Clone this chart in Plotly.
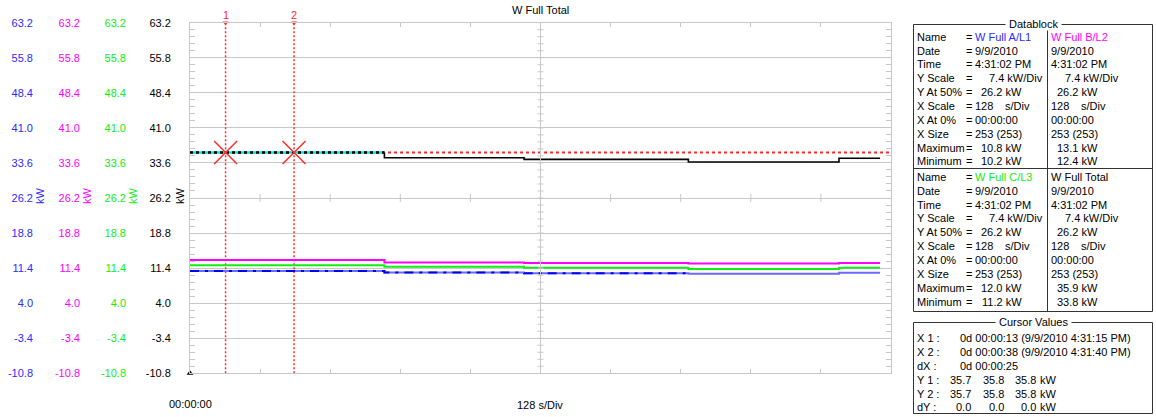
import datetime as dt
import plotly.graph_objects as go

W, H = 1156, 417
FONT = "Liberation Sans"

# Logged channels: elapsed seconds at each level change and the kW level from there on
t_total = [0, 4, 71, 122, 182, 237, 252]
kw_total = [35.9, 35.8, 34.7, 34.35, 33.8, 34.6, 34.6]
t_phase = [0, 71, 122, 182, 237, 252]
kw_l1 = [10.8, 10.45, 10.3, 10.2, 10.4, 10.4]
kw_l2 = [13.1, 12.6, 12.5, 12.4, 12.5, 12.5]
kw_l3 = [12.0, 11.7, 11.5, 11.2, 11.5, 11.5]

# Shared vertical scale: 7.4 kW per division, 26.2 kW at mid-screen
y_ticks = [-10.8, -3.4, 4.0, 11.4, 18.8, 26.2, 33.6, 41.0, 48.4, 55.8, 63.2]
y_minor = 1.48
x_range = [0, 256]
x_div = 25.6

# Cursor readout
cursor_t = [13, 38]
cursor_kw = 35.8
cursor_y1 = ["35.7", "35.8", "35.8"]
cursor_y2 = ["35.7", "35.8", "35.8"]
cursor_dy = ["0.0", "0.0", "0.0"]

start = dt.datetime(2010, 9, 9, 16, 31, 2)

BLUE, BLUE_DK = "#6a6aff", "#0000f0"
MAGENTA = "#ff00ff"
GREEN = "#11ee11"
RED = "#ff2a2a"
GRID = "#c8c8c8"

channels = [
    dict(name="W Full A/L1", color="#2b2bff", data=kw_l1),
    dict(name="W Full B/L2", color=MAGENTA, data=kw_l2),
    dict(name="W Full C/L3", color=GREEN, data=kw_l3),
    dict(name="W Full Total", color="black", data=kw_total),
]


def px(x):
    return x / W


def py(y):
    return 1 - y / H


fig = go.Figure()

# horizontal cursor level
fig.add_trace(go.Scatter(x=x_range, y=[cursor_kw, cursor_kw], mode="lines",
                         line=dict(color=RED, width=2, dash="3px,3px"),
                         hoverinfo="skip", showlegend=False))

# phase channels, each on its own scale
fig.add_trace(go.Scatter(x=t_phase, y=kw_l2, mode="lines", line_shape="hv",
                         line=dict(color=MAGENTA, width=2), yaxis="y3", showlegend=False))
fig.add_trace(go.Scatter(x=t_phase, y=kw_l3, mode="lines", line_shape="hv",
                         line=dict(color=GREEN, width=2), yaxis="y4", showlegend=False))
fig.add_trace(go.Scatter(x=t_phase, y=kw_l1, mode="lines", line_shape="hv",
                         line=dict(color=BLUE, width=2), yaxis="y2", showlegend=False))
fig.add_trace(go.Scatter(x=t_phase[:4], y=kw_l1[:4], mode="lines", line_shape="hv",
                         line=dict(color=BLUE_DK, width=2, dash="9px,6px,3px,6px"),
                         yaxis="y2", showlegend=False))

# total: highlighted while equal to the cursor level, solid afterwards
split = 2
fig.add_trace(go.Scatter(x=t_total[:split + 1], y=[kw_total[1]] * (split + 1), mode="lines",
                         line=dict(color="#00e5e5", width=2.5), showlegend=False))
fig.add_trace(go.Scatter(x=t_total[:split + 1], y=[kw_total[1]] * (split + 1), mode="lines",
                         line=dict(color="black", width=2.5, dash="3px,3px"), showlegend=False))
fig.add_trace(go.Scatter(x=[t_total[split]] + t_total[split:],
                         y=[kw_total[1]] + kw_total[split:], mode="lines", line_shape="hv",
                         line=dict(color="black", width=1.6), showlegend=False))

# time cursors
for t in cursor_t:
    fig.add_trace(go.Scatter(x=[t, t], y=[y_ticks[0], y_ticks[-1]], mode="lines",
                             line=dict(color=RED, width=1.5, dash="2px,2px"),
                             showlegend=False))
fig.add_trace(go.Scatter(x=cursor_t, y=[cursor_kw] * len(cursor_t), mode="markers",
                         marker=dict(symbol="x-thin-open", size=23, color=RED,
                                     line=dict(color=RED, width=1.5)),
                         showlegend=False))
fig.add_trace(go.Scatter(x=cursor_t, y=[y_ticks[-1]] * len(cursor_t), mode="markers",
                         marker=dict(symbol="triangle-down", size=5, color=RED),
                         cliponaxis=False, showlegend=False))
# start-of-record marker
fig.add_trace(go.Scatter(x=[x_range[0]], y=[y_ticks[0]], mode="markers",
                         marker=dict(symbol="triangle-up", size=6, color="black"),
                         cliponaxis=False, showlegend=False))

tick_text = [f"{v:.1f}" for v in y_ticks]
x_dom = [px(190), px(891)]
y_dom = [py(373.3), py(22.7)]

fig.update_layout(
    width=W, height=H,
    margin=dict(l=0, r=0, t=0, b=0, autoexpand=False),
    paper_bgcolor="white", plot_bgcolor="white",
    font=dict(family=FONT, size=11, color="black"),
    showlegend=False,
    xaxis=dict(domain=x_dom, range=x_range, automargin=False,
               tickvals=[i * x_div for i in range(11)],
               ticks="inside", ticklen=4, tickcolor=GRID,
               showline=True, linecolor=GRID, mirror="ticks",
               showgrid=False, zeroline=False, showticklabels=False),
    yaxis=dict(domain=y_dom, range=[y_ticks[0], y_ticks[-1]], automargin=False,
               tickvals=y_ticks, ticktext=tick_text,
               ticks="inside", ticklen=5, tickcolor=GRID,
               showline=True, linecolor=GRID, mirror="ticks",
               showgrid=True, gridcolor=GRID, zeroline=False,
               minor=dict(dtick=y_minor, tick0=y_ticks[0], ticks="inside",
                          ticklen=5, tickcolor=GRID, showgrid=False),
               tickfont=dict(size=11, color="black"), ticklabelstandoff=16),
)

for ax, ch, xpos in (("yaxis2", channels[0], 33), ("yaxis3", channels[1], 80),
                     ("yaxis4", channels[2], 126)):
    fig.layout[ax] = dict(overlaying="y", anchor="free", position=px(xpos), side="left",
                          range=[y_ticks[0], y_ticks[-1]], tickvals=y_ticks,
                          ticktext=tick_text, showgrid=False, zeroline=False,
                          showline=False, ticks="", automargin=False,
                          tickfont=dict(size=11, color=ch["color"]))

shapes = []
# centre crosshair with its division marks
mid_t = (x_range[0] + x_range[1]) / 2
mid_kw = y_ticks[5]
shapes.append(dict(type="line", xref="x", yref="y domain", x0=mid_t, x1=mid_t, y0=0, y1=1,
                   line=dict(color=GRID, width=1)))
n_minor = int(round((y_ticks[-1] - y_ticks[0]) / y_minor))
for i in range(1, n_minor):
    v = y_ticks[0] + i * y_minor
    shapes.append(dict(type="line", xref="x", yref="y", xsizemode="pixel", xanchor=mid_t,
                       x0=-3, x1=3, y0=v, y1=v, line=dict(color=GRID, width=1)))
for i in range(1, 10):
    v = i * x_div
    shapes.append(dict(type="line", xref="x", yref="y", ysizemode="pixel", yanchor=mid_kw,
                       x0=v, x1=v, y0=-4, y1=4, line=dict(color=GRID, width=1)))

# datablock and cursor panels
BOX = dict(color="#333333", width=1)
shapes += [
    dict(type="rect", xref="paper", yref="paper", x0=px(913.5), x1=px(1152.5),
         y0=py(311.5), y1=py(24.5), line=BOX),
    dict(type="line", xref="paper", yref="paper", x0=px(1047.5), x1=px(1047.5),
         y0=py(311.5), y1=py(24.5), line=BOX),
    dict(type="line", xref="paper", yref="paper", x0=px(913.5), x1=px(1152.5),
         y0=py(168.5), y1=py(168.5), line=BOX),
    dict(type="rect", xref="paper", yref="paper", x0=px(913.5), x1=px(1152.5),
         y0=py(413.5), y1=py(322.5), line=BOX),
]

ann = []
PANEL = 11


def txt(x, y, s, color="black", anchor="left", size=PANEL, bg=None):
    d = dict(x=px(x), y=py(y), xref="paper", yref="paper", text=s, showarrow=False,
             xanchor=anchor, yanchor="middle", borderpad=0,
             font=dict(family=FONT, size=size, color=color))
    if bg:
        d["bgcolor"] = bg
    return d


ann.append(txt(540, 10, "W Full Total", anchor="center", size=11))
ann.append(txt(190, 404, "00:00:00", anchor="center", size=11))
ann.append(txt(540, 405, "128 s/Div", anchor="center", size=11))
for i, t in enumerate(cursor_t):
    ann.append(dict(x=t, y=py(15), xref="x", yref="paper", text=str(i + 1), showarrow=False,
                    xanchor="center", yanchor="middle",
                    font=dict(family=FONT, size=11, color=RED)))
for x, ch in zip((40, 87, 133, 180), channels):
    ann.append(dict(x=px(x), y=py(196), xref="paper", yref="paper", text="kW",
                    textangle=-90, showarrow=False, xanchor="center", yanchor="middle",
                    font=dict(family=FONT, size=11, color=ch["color"])))

ann.append(txt(1033, 24, "\u00a0Datablock\u00a0", anchor="center", bg="white"))
ann.append(txt(1033, 322, "\u00a0Cursor Values\u00a0", anchor="center", bg="white"))

db_labels = ["Name", "Date", "Time", "Y Scale", "Y At 50%", "X Scale", "X At 0%",
             "X Size", "Maximum", "Minimum"]
date_str = f"{start.month}/{start.day}/{start.year}"
time_str = start.strftime("%I:%M:%S %p").lstrip("0")
n_samples = t_phase[-1] + 1
for block, (row0, step) in enumerate(((36.7, 13.85), (176.7, 13.9))):
    rows = [row0 + step * i for i in range(10)]
    for y, lab in zip(rows, db_labels):
        ann.append(txt(916, y, lab))
        ann.append(txt(965, y, "="))
    for col, c0 in enumerate((974, 1050)):
        ch = channels[block * 2 + col]
        r = rows
        ann.append(txt(c0, r[0], ch["name"], color=ch["color"]))
        ann.append(txt(c0, r[1], date_str))
        ann.append(txt(c0, r[2], time_str))
        ann.append(txt(c0 + 70, r[3], "7.4 kW/Div", anchor="right"))
        ann.append(txt(c0 + 49, r[4], "26.2 kW", anchor="right"))
        ann.append(txt(c0, r[5], "128"))
        ann.append(txt(c0 + 30, r[5], "s/Div"))
        ann.append(txt(c0, r[6], "00:00:00"))
        ann.append(txt(c0, r[7], f"{n_samples} ({n_samples})"))
        ann.append(txt(c0 + 49, r[8], f"{max(ch['data']):.1f} kW", anchor="right"))
        ann.append(txt(c0 + 49, r[9], f"{min(ch['data']):.1f} kW", anchor="right"))

# cursor readout
cv_rows = [338.3, 352.0, 366.0, 379.7, 393.7, 407.3]
for y, lab in zip(cv_rows, ["X 1 :", "X 2 :", "dX :", "Y 1 :", "Y 2 :", "dY :"]):
    ann.append(txt(916, y, lab))
for y, t in zip(cv_rows[:2], cursor_t):
    stamp = start + dt.timedelta(seconds=t)
    s = (f"0d 00:00:{t:02d} ({stamp.month}/{stamp.day}/{stamp.year} "
         f"{stamp.strftime('%I:%M:%S %p').lstrip('0')})")
    ann.append(txt(959, y, s))
ann.append(txt(959, cv_rows[2], f"0d 00:00:{cursor_t[1] - cursor_t[0]:02d}"))
for y, vals in zip(cv_rows[3:], (cursor_y1, cursor_y2, cursor_dy)):
    for xr, v in zip((972, 1005, 1037), vals):
        ann.append(txt(xr, y, v, anchor="right"))
    ann.append(txt(1039, y, "kW"))

fig.update_layout(shapes=shapes, annotations=ann)
fig.write_html("out.html")
